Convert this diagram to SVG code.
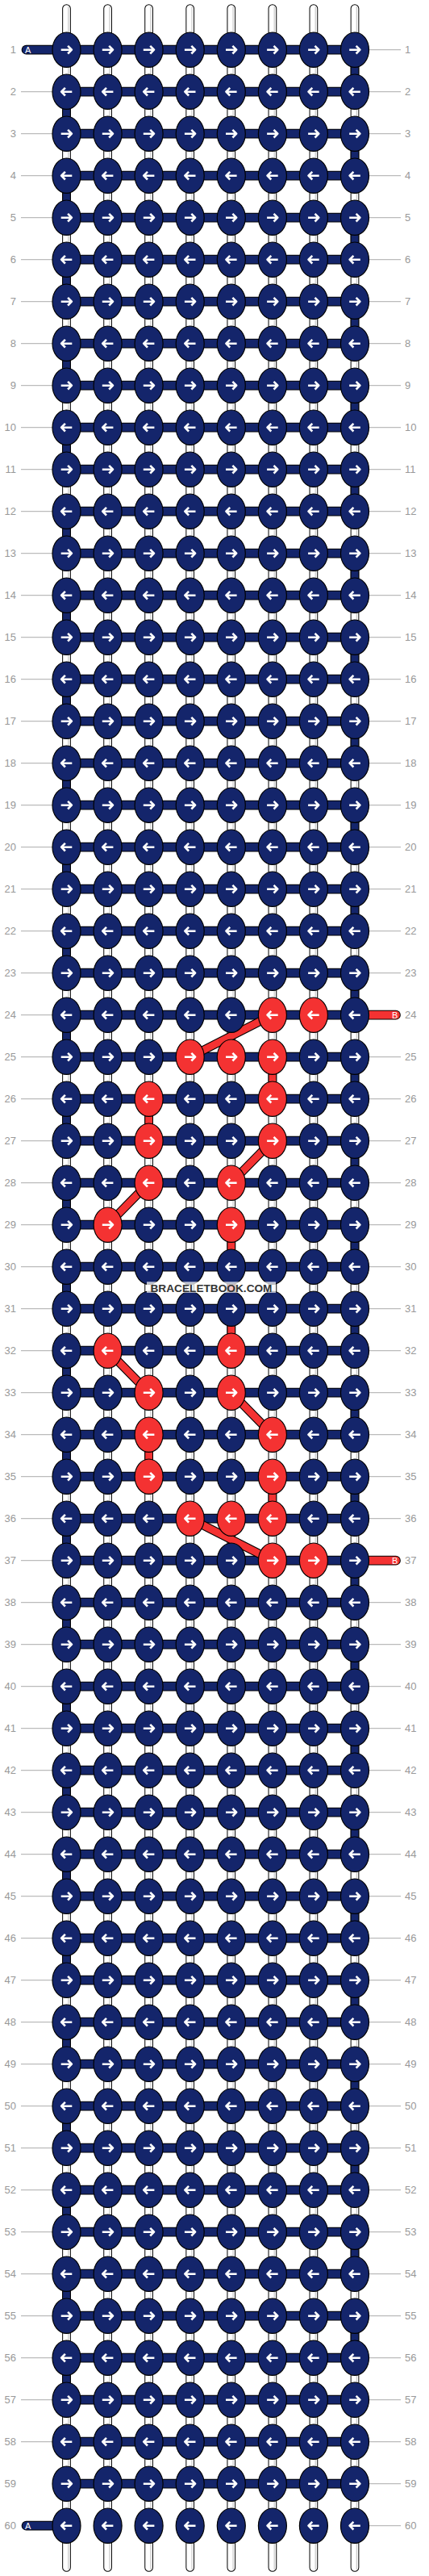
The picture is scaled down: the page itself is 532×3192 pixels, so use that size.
<svg xmlns="http://www.w3.org/2000/svg" xmlns:xlink="http://www.w3.org/1999/xlink" width="532" height="3192" viewBox="0 0 532 3192">
<style>
.kn{fill:#14256b;stroke:#000;stroke-width:1.2}
.kr{fill:#f43232;stroke:#000;stroke-width:1.2}
.ar{fill:none;stroke:#fff;stroke-width:2.6;stroke-linejoin:round}
.L{font-family:"Liberation Sans",Arial,sans-serif;font-size:13px;fill:#999;text-anchor:end}
.R{font-family:"Liberation Sans",Arial,sans-serif;font-size:13px;fill:#999;text-anchor:start}
.tag{font-family:"Liberation Sans",Arial,sans-serif;font-size:11px;fill:#fff}
.wm{font-family:"Liberation Sans",Arial,sans-serif;font-size:13px;font-weight:bold;fill:#333;text-anchor:middle}
</style>
<defs>
<g id="nR"><ellipse class="kn" rx="17.5" ry="21.7"/><path class="ar" d="M-6.8 0H6M1.6-4.8 6.4 0 1.6 4.8"/></g>
<g id="nL"><ellipse class="kn" rx="17.5" ry="21.7"/><path class="ar" d="M6.8 0H-6M-1.6-4.8-6.4 0-1.6 4.8"/></g>
<g id="rR"><ellipse class="kr" rx="17.5" ry="21.7"/><path class="ar" d="M-6.8 0H6M1.6-4.8 6.4 0 1.6 4.8"/></g>
<g id="rL"><ellipse class="kr" rx="17.5" ry="21.7"/><path class="ar" d="M6.8 0H-6M-1.6-4.8-6.4 0-1.6 4.8"/></g>
</defs>
<rect width="532" height="3192" fill="#fff"/>
<g id="labels">
<path fill="none" stroke="#bbb" stroke-width="1.3" d="M26 113.7h39m-39 52h39m-39 52h39m-39 52h39m-39 52h39m-39 52h39m-39 52h39m-39 52h39m-39 52h39m-39 52h39m-39 52h39m-39 52h39m-39 52h39m-39 52h39m-39 52h39m-39 52h39m-39 52h39m-39 52h39m-39 52h39m-39 52h39m-39 52h39m-39 52h39m-39 52h39m-39 52h39m-39 52h39m-39 52h39m-39 52h39m-39 52h39m-39 52h39m-39 52h39m-39 52h39m-39 52h39m-39 52h39m-39 52h39m-39 52h39m-39 52h39m-39 52h39m-39 52h39m-39 52h39m-39 52h39m-39 52h39m-39 52h39m-39 52h39m-39 52h39m-39 52h39m-39 52h39m-39 52h39m-39 52h39m-39 52h39m-39 52h39m-39 52h39m-39 52h39m-39 52h39m-39 52h39m-39 52h39m-39 52h39m-39 52h39M457 61.7h40m-40 52h40m-40 52h40m-40 52h40m-40 52h40m-40 52h40m-40 52h40m-40 52h40m-40 52h40m-40 52h40m-40 52h40m-40 52h40m-40 52h40m-40 52h40m-40 52h40m-40 52h40m-40 52h40m-40 52h40m-40 52h40m-40 52h40m-40 52h40m-40 52h40m-40 52h40m-40 52m0 52h40m-40 52h40m-40 52h40m-40 52h40m-40 52h40m-40 52h40m-40 52h40m-40 52h40m-40 52h40m-40 52h40m-40 52h40m-40 52h40m-40 52m0 52h40m-40 52h40m-40 52h40m-40 52h40m-40 52h40m-40 52h40m-40 52h40m-40 52h40m-40 52h40m-40 52h40m-40 52h40m-40 52h40m-40 52h40m-40 52h40m-40 52h40m-40 52h40m-40 52h40m-40 52h40m-40 52h40m-40 52h40m-40 52h40m-40 52h40m-40 52h40"/>
<text class="L" x="20" y="66.3">1</text><text class="R" x="502" y="66.3">1</text>
<text class="L" x="20" y="118.3">2</text><text class="R" x="502" y="118.3">2</text>
<text class="L" x="20" y="170.3">3</text><text class="R" x="502" y="170.3">3</text>
<text class="L" x="20" y="222.3">4</text><text class="R" x="502" y="222.3">4</text>
<text class="L" x="20" y="274.3">5</text><text class="R" x="502" y="274.3">5</text>
<text class="L" x="20" y="326.3">6</text><text class="R" x="502" y="326.3">6</text>
<text class="L" x="20" y="378.3">7</text><text class="R" x="502" y="378.3">7</text>
<text class="L" x="20" y="430.3">8</text><text class="R" x="502" y="430.3">8</text>
<text class="L" x="20" y="482.3">9</text><text class="R" x="502" y="482.3">9</text>
<text class="L" x="20" y="534.3">10</text><text class="R" x="502" y="534.3">10</text>
<text class="L" x="20" y="586.3">11</text><text class="R" x="502" y="586.3">11</text>
<text class="L" x="20" y="638.3">12</text><text class="R" x="502" y="638.3">12</text>
<text class="L" x="20" y="690.3">13</text><text class="R" x="502" y="690.3">13</text>
<text class="L" x="20" y="742.3">14</text><text class="R" x="502" y="742.3">14</text>
<text class="L" x="20" y="794.3">15</text><text class="R" x="502" y="794.3">15</text>
<text class="L" x="20" y="846.3">16</text><text class="R" x="502" y="846.3">16</text>
<text class="L" x="20" y="898.3">17</text><text class="R" x="502" y="898.3">17</text>
<text class="L" x="20" y="950.3">18</text><text class="R" x="502" y="950.3">18</text>
<text class="L" x="20" y="1002.3">19</text><text class="R" x="502" y="1002.3">19</text>
<text class="L" x="20" y="1054.3">20</text><text class="R" x="502" y="1054.3">20</text>
<text class="L" x="20" y="1106.3">21</text><text class="R" x="502" y="1106.3">21</text>
<text class="L" x="20" y="1158.3">22</text><text class="R" x="502" y="1158.3">22</text>
<text class="L" x="20" y="1210.3">23</text><text class="R" x="502" y="1210.3">23</text>
<text class="L" x="20" y="1262.3">24</text><text class="R" x="502" y="1262.3">24</text>
<text class="L" x="20" y="1314.3">25</text><text class="R" x="502" y="1314.3">25</text>
<text class="L" x="20" y="1366.3">26</text><text class="R" x="502" y="1366.3">26</text>
<text class="L" x="20" y="1418.3">27</text><text class="R" x="502" y="1418.3">27</text>
<text class="L" x="20" y="1470.3">28</text><text class="R" x="502" y="1470.3">28</text>
<text class="L" x="20" y="1522.3">29</text><text class="R" x="502" y="1522.3">29</text>
<text class="L" x="20" y="1574.3">30</text><text class="R" x="502" y="1574.3">30</text>
<text class="L" x="20" y="1626.3">31</text><text class="R" x="502" y="1626.3">31</text>
<text class="L" x="20" y="1678.3">32</text><text class="R" x="502" y="1678.3">32</text>
<text class="L" x="20" y="1730.3">33</text><text class="R" x="502" y="1730.3">33</text>
<text class="L" x="20" y="1782.3">34</text><text class="R" x="502" y="1782.3">34</text>
<text class="L" x="20" y="1834.3">35</text><text class="R" x="502" y="1834.3">35</text>
<text class="L" x="20" y="1886.3">36</text><text class="R" x="502" y="1886.3">36</text>
<text class="L" x="20" y="1938.3">37</text><text class="R" x="502" y="1938.3">37</text>
<text class="L" x="20" y="1990.3">38</text><text class="R" x="502" y="1990.3">38</text>
<text class="L" x="20" y="2042.3">39</text><text class="R" x="502" y="2042.3">39</text>
<text class="L" x="20" y="2094.3">40</text><text class="R" x="502" y="2094.3">40</text>
<text class="L" x="20" y="2146.3">41</text><text class="R" x="502" y="2146.3">41</text>
<text class="L" x="20" y="2198.3">42</text><text class="R" x="502" y="2198.3">42</text>
<text class="L" x="20" y="2250.3">43</text><text class="R" x="502" y="2250.3">43</text>
<text class="L" x="20" y="2302.3">44</text><text class="R" x="502" y="2302.3">44</text>
<text class="L" x="20" y="2354.3">45</text><text class="R" x="502" y="2354.3">45</text>
<text class="L" x="20" y="2406.3">46</text><text class="R" x="502" y="2406.3">46</text>
<text class="L" x="20" y="2458.3">47</text><text class="R" x="502" y="2458.3">47</text>
<text class="L" x="20" y="2510.3">48</text><text class="R" x="502" y="2510.3">48</text>
<text class="L" x="20" y="2562.3">49</text><text class="R" x="502" y="2562.3">49</text>
<text class="L" x="20" y="2614.3">50</text><text class="R" x="502" y="2614.3">50</text>
<text class="L" x="20" y="2666.3">51</text><text class="R" x="502" y="2666.3">51</text>
<text class="L" x="20" y="2718.3">52</text><text class="R" x="502" y="2718.3">52</text>
<text class="L" x="20" y="2770.3">53</text><text class="R" x="502" y="2770.3">53</text>
<text class="L" x="20" y="2822.3">54</text><text class="R" x="502" y="2822.3">54</text>
<text class="L" x="20" y="2874.3">55</text><text class="R" x="502" y="2874.3">55</text>
<text class="L" x="20" y="2926.3">56</text><text class="R" x="502" y="2926.3">56</text>
<text class="L" x="20" y="2978.3">57</text><text class="R" x="502" y="2978.3">57</text>
<text class="L" x="20" y="3030.3">58</text><text class="R" x="502" y="3030.3">58</text>
<text class="L" x="20" y="3082.3">59</text><text class="R" x="502" y="3082.3">59</text>
<text class="L" x="20" y="3134.3">60</text><text class="R" x="502" y="3134.3">60</text>
</g>
<g id="threads" fill="none">
<path stroke="#000" stroke-width="10.7" stroke-linecap="round" d="M82.5 10.5V3181.5M133.6 10.5V3181.5M184.6 10.5V3181.5M235.7 10.5V3181.5M286.8 10.5V3181.5M337.9 10.5V3181.5M388.9 10.5V3181.5M440 10.5V3181.5"/>
<path stroke="#fff" stroke-width="8.7" stroke-linecap="round" d="M82.5 10.5V3181.5M133.6 10.5V3181.5M184.6 10.5V3181.5M235.7 10.5V3181.5M286.8 10.5V3181.5M337.9 10.5V3181.5M388.9 10.5V3181.5M440 10.5V3181.5"/>
<path stroke="#c8c8c8" stroke-width="1.2" d="M84.8 8V3184M135.9 8V3184M186.9 8V3184M238 8V3184M289.1 8V3184M340.2 8V3184M391.2 8V3184M442.3 8V3184"/>
<path id="turnA" stroke="#000" stroke-width="10.7" d="M440 61.7v52m0 52v52m0 52v52m0 52v52m0 52v52m0 52v52m0 52v52m0 52v52m0 52v52m0 52v52m0 52v52m0 52v52m0 52v52m0 52v52m0 52v52m0 52v52m0 52v52m0 52v52m0 52v52m0 52v52m0 52v52m0 52v52m0 52v52m0 52v52m0 52v52m0 52v52m0 52v52m0 52v52M82.5 113.7v52m0 52v52m0 52v52m0 52v52m0 52v52m0 52v52m0 52v52m0 52v52m0 52v52m0 52v52m0 52v52m0 52v52m0 52v52m0 52v52m0 52v52m0 52v52m0 52v52m0 52v52m0 52v52m0 52v52m0 52v52m0 52v52m0 52v52m0 52v52m0 52v52m0 52v52m0 52v52m0 52v52"/>
<path stroke="#14256b" stroke-width="8.7" d="M440 61.7v52m0 52v52m0 52v52m0 52v52m0 52v52m0 52v52m0 52v52m0 52v52m0 52v52m0 52v52m0 52v52m0 52v52m0 52v52m0 52v52m0 52v52m0 52v52m0 52v52m0 52v52m0 52v52m0 52v52m0 52v52m0 52v52m0 52v52m0 52v52m0 52v52m0 52v52m0 52v52m0 52v52M82.5 113.7v52m0 52v52m0 52v52m0 52v52m0 52v52m0 52v52m0 52v52m0 52v52m0 52v52m0 52v52m0 52v52m0 52v52m0 52v52m0 52v52m0 52v52m0 52v52m0 52v52m0 52v52m0 52v52m0 52v52m0 52v52m0 52v52m0 52v52m0 52v52m0 52v52m0 52v52m0 52v52m0 52v52"/>
<path stroke="#000" stroke-width="10.7" d="M337.9 1309.7V1361.7M184.6 1361.7V1413.7M286.8 1517.7V1673.7M184.6 1777.7V1829.7M337.9 1829.7V1881.7"/>
<path stroke="#f43232" stroke-width="8.7" d="M337.9 1309.7V1361.7M184.6 1361.7V1413.7M286.8 1517.7V1673.7M184.6 1777.7V1829.7M337.9 1829.7V1881.7"/>
<path stroke="#000" stroke-width="11.7" d="M82.5 61.7h357.5m-357.5 52h357.5m-357.5 52h357.5m-357.5 52h357.5m-357.5 52h357.5m-357.5 52h357.5m-357.5 52h357.5m-357.5 52h357.5m-357.5 52h357.5m-357.5 52h357.5m-357.5 52h357.5m-357.5 52h357.5m-357.5 52h357.5m-357.5 52h357.5m-357.5 52h357.5m-357.5 52h357.5m-357.5 52h357.5m-357.5 52h357.5m-357.5 52h357.5m-357.5 52h357.5m-357.5 52h357.5m-357.5 52h357.5m-357.5 52h357.5m-357.5 52h357.5m-357.5 52h357.5m-357.5 52h357.5m-357.5 52h357.5m-357.5 52h357.5m-357.5 52h357.5m-357.5 52h357.5m-357.5 52h357.5m-357.5 52h357.5m-357.5 52h357.5m-357.5 52h357.5m-357.5 52h357.5m-357.5 52h357.5m-357.5 52h357.5m-357.5 52h357.5m-357.5 52h357.5m-357.5 52h357.5m-357.5 52h357.5m-357.5 52h357.5m-357.5 52h357.5m-357.5 52h357.5m-357.5 52h357.5m-357.5 52h357.5m-357.5 52h357.5m-357.5 52h357.5m-357.5 52h357.5m-357.5 52h357.5m-357.5 52h357.5m-357.5 52h357.5m-357.5 52h357.5m-357.5 52h357.5m-357.5 52h357.5m-357.5 52h357.5m-357.5 52h357.5m-357.5 52h357.5m-357.5 52h357.5"/>
<path stroke="#14256b" stroke-width="9.7" d="M82.5 61.7h357.5m-357.5 52h357.5m-357.5 52h357.5m-357.5 52h357.5m-357.5 52h357.5m-357.5 52h357.5m-357.5 52h357.5m-357.5 52h357.5m-357.5 52h357.5m-357.5 52h357.5m-357.5 52h357.5m-357.5 52h357.5m-357.5 52h357.5m-357.5 52h357.5m-357.5 52h357.5m-357.5 52h357.5m-357.5 52h357.5m-357.5 52h357.5m-357.5 52h357.5m-357.5 52h357.5m-357.5 52h357.5m-357.5 52h357.5m-357.5 52h357.5m-357.5 52h357.5m-357.5 52h357.5m-357.5 52h357.5m-357.5 52h357.5m-357.5 52h357.5m-357.5 52h357.5m-357.5 52h357.5m-357.5 52h357.5m-357.5 52h357.5m-357.5 52h357.5m-357.5 52h357.5m-357.5 52h357.5m-357.5 52h357.5m-357.5 52h357.5m-357.5 52h357.5m-357.5 52h357.5m-357.5 52h357.5m-357.5 52h357.5m-357.5 52h357.5m-357.5 52h357.5m-357.5 52h357.5m-357.5 52h357.5m-357.5 52h357.5m-357.5 52h357.5m-357.5 52h357.5m-357.5 52h357.5m-357.5 52h357.5m-357.5 52h357.5m-357.5 52h357.5m-357.5 52h357.5m-357.5 52h357.5m-357.5 52h357.5m-357.5 52h357.5m-357.5 52h357.5m-357.5 52h357.5m-357.5 52h357.5"/>
<path stroke="#000" stroke-width="11" d="M337.9 1257.7L235.7 1309.7M337.9 1413.7L286.8 1465.7M184.6 1465.7L133.6 1517.7M133.6 1673.7L184.6 1725.7M286.8 1725.7L337.9 1777.7M235.7 1881.7L337.9 1933.7"/>
<path stroke="#f43232" stroke-width="8.8" d="M337.9 1257.7L235.7 1309.7M337.9 1413.7L286.8 1465.7M184.6 1465.7L133.6 1517.7M133.6 1673.7L184.6 1725.7M286.8 1725.7L337.9 1777.7M235.7 1881.7L337.9 1933.7"/>
<g id="tagA1"><path stroke="#000" stroke-width="11.7" stroke-linecap="round" d="M32.5 61.7H80"/><path stroke="#14256b" stroke-width="9.7" stroke-linecap="round" d="M32.5 61.7H80"/><text class="tag" x="31" y="65.6" fill="#dde3ff">A</text></g>
<g id="tagA60"><path stroke="#000" stroke-width="11.7" stroke-linecap="round" d="M32.5 3129.7H80"/><path stroke="#14256b" stroke-width="9.7" stroke-linecap="round" d="M32.5 3129.7H80"/><text class="tag" x="31" y="3133.6">A</text></g>
<g id="tagB24"><path stroke="#000" stroke-width="11.7" stroke-linecap="round" d="M443 1257.7H491"/><path stroke="#f43232" stroke-width="9.7" stroke-linecap="round" d="M443 1257.7H491"/><text class="tag" x="486" y="1261.6">B</text></g>
<g id="tagB37"><path stroke="#000" stroke-width="11.7" stroke-linecap="round" d="M443 1933.7H491"/><path stroke="#f43232" stroke-width="9.7" stroke-linecap="round" d="M443 1933.7H491"/><text class="tag" x="486" y="1937.6">B</text></g>
</g>
<g id="knots">
<g id="row1" transform="translate(0 61.7)"><use id="k1-1" href="#nR" x="82.5"/><use id="k1-2" href="#nR" x="133.6"/><use id="k1-3" href="#nR" x="184.6"/><use id="k1-4" href="#nR" x="235.7"/><use id="k1-5" href="#nR" x="286.8"/><use id="k1-6" href="#nR" x="337.9"/><use id="k1-7" href="#nR" x="388.9"/><use id="k1-8" href="#nR" x="440"/></g>
<g id="row2" transform="translate(0 113.7)"><use id="k2-1" href="#nL" x="82.5"/><use id="k2-2" href="#nL" x="133.6"/><use id="k2-3" href="#nL" x="184.6"/><use id="k2-4" href="#nL" x="235.7"/><use id="k2-5" href="#nL" x="286.8"/><use id="k2-6" href="#nL" x="337.9"/><use id="k2-7" href="#nL" x="388.9"/><use id="k2-8" href="#nL" x="440"/></g>
<g id="row3" transform="translate(0 165.7)"><use id="k3-1" href="#nR" x="82.5"/><use id="k3-2" href="#nR" x="133.6"/><use id="k3-3" href="#nR" x="184.6"/><use id="k3-4" href="#nR" x="235.7"/><use id="k3-5" href="#nR" x="286.8"/><use id="k3-6" href="#nR" x="337.9"/><use id="k3-7" href="#nR" x="388.9"/><use id="k3-8" href="#nR" x="440"/></g>
<g id="row4" transform="translate(0 217.7)"><use id="k4-1" href="#nL" x="82.5"/><use id="k4-2" href="#nL" x="133.6"/><use id="k4-3" href="#nL" x="184.6"/><use id="k4-4" href="#nL" x="235.7"/><use id="k4-5" href="#nL" x="286.8"/><use id="k4-6" href="#nL" x="337.9"/><use id="k4-7" href="#nL" x="388.9"/><use id="k4-8" href="#nL" x="440"/></g>
<g id="row5" transform="translate(0 269.7)"><use id="k5-1" href="#nR" x="82.5"/><use id="k5-2" href="#nR" x="133.6"/><use id="k5-3" href="#nR" x="184.6"/><use id="k5-4" href="#nR" x="235.7"/><use id="k5-5" href="#nR" x="286.8"/><use id="k5-6" href="#nR" x="337.9"/><use id="k5-7" href="#nR" x="388.9"/><use id="k5-8" href="#nR" x="440"/></g>
<g id="row6" transform="translate(0 321.7)"><use id="k6-1" href="#nL" x="82.5"/><use id="k6-2" href="#nL" x="133.6"/><use id="k6-3" href="#nL" x="184.6"/><use id="k6-4" href="#nL" x="235.7"/><use id="k6-5" href="#nL" x="286.8"/><use id="k6-6" href="#nL" x="337.9"/><use id="k6-7" href="#nL" x="388.9"/><use id="k6-8" href="#nL" x="440"/></g>
<g id="row7" transform="translate(0 373.7)"><use id="k7-1" href="#nR" x="82.5"/><use id="k7-2" href="#nR" x="133.6"/><use id="k7-3" href="#nR" x="184.6"/><use id="k7-4" href="#nR" x="235.7"/><use id="k7-5" href="#nR" x="286.8"/><use id="k7-6" href="#nR" x="337.9"/><use id="k7-7" href="#nR" x="388.9"/><use id="k7-8" href="#nR" x="440"/></g>
<g id="row8" transform="translate(0 425.7)"><use id="k8-1" href="#nL" x="82.5"/><use id="k8-2" href="#nL" x="133.6"/><use id="k8-3" href="#nL" x="184.6"/><use id="k8-4" href="#nL" x="235.7"/><use id="k8-5" href="#nL" x="286.8"/><use id="k8-6" href="#nL" x="337.9"/><use id="k8-7" href="#nL" x="388.9"/><use id="k8-8" href="#nL" x="440"/></g>
<g id="row9" transform="translate(0 477.7)"><use id="k9-1" href="#nR" x="82.5"/><use id="k9-2" href="#nR" x="133.6"/><use id="k9-3" href="#nR" x="184.6"/><use id="k9-4" href="#nR" x="235.7"/><use id="k9-5" href="#nR" x="286.8"/><use id="k9-6" href="#nR" x="337.9"/><use id="k9-7" href="#nR" x="388.9"/><use id="k9-8" href="#nR" x="440"/></g>
<g id="row10" transform="translate(0 529.7)"><use id="k10-1" href="#nL" x="82.5"/><use id="k10-2" href="#nL" x="133.6"/><use id="k10-3" href="#nL" x="184.6"/><use id="k10-4" href="#nL" x="235.7"/><use id="k10-5" href="#nL" x="286.8"/><use id="k10-6" href="#nL" x="337.9"/><use id="k10-7" href="#nL" x="388.9"/><use id="k10-8" href="#nL" x="440"/></g>
<g id="row11" transform="translate(0 581.7)"><use id="k11-1" href="#nR" x="82.5"/><use id="k11-2" href="#nR" x="133.6"/><use id="k11-3" href="#nR" x="184.6"/><use id="k11-4" href="#nR" x="235.7"/><use id="k11-5" href="#nR" x="286.8"/><use id="k11-6" href="#nR" x="337.9"/><use id="k11-7" href="#nR" x="388.9"/><use id="k11-8" href="#nR" x="440"/></g>
<g id="row12" transform="translate(0 633.7)"><use id="k12-1" href="#nL" x="82.5"/><use id="k12-2" href="#nL" x="133.6"/><use id="k12-3" href="#nL" x="184.6"/><use id="k12-4" href="#nL" x="235.7"/><use id="k12-5" href="#nL" x="286.8"/><use id="k12-6" href="#nL" x="337.9"/><use id="k12-7" href="#nL" x="388.9"/><use id="k12-8" href="#nL" x="440"/></g>
<g id="row13" transform="translate(0 685.7)"><use id="k13-1" href="#nR" x="82.5"/><use id="k13-2" href="#nR" x="133.6"/><use id="k13-3" href="#nR" x="184.6"/><use id="k13-4" href="#nR" x="235.7"/><use id="k13-5" href="#nR" x="286.8"/><use id="k13-6" href="#nR" x="337.9"/><use id="k13-7" href="#nR" x="388.9"/><use id="k13-8" href="#nR" x="440"/></g>
<g id="row14" transform="translate(0 737.7)"><use id="k14-1" href="#nL" x="82.5"/><use id="k14-2" href="#nL" x="133.6"/><use id="k14-3" href="#nL" x="184.6"/><use id="k14-4" href="#nL" x="235.7"/><use id="k14-5" href="#nL" x="286.8"/><use id="k14-6" href="#nL" x="337.9"/><use id="k14-7" href="#nL" x="388.9"/><use id="k14-8" href="#nL" x="440"/></g>
<g id="row15" transform="translate(0 789.7)"><use id="k15-1" href="#nR" x="82.5"/><use id="k15-2" href="#nR" x="133.6"/><use id="k15-3" href="#nR" x="184.6"/><use id="k15-4" href="#nR" x="235.7"/><use id="k15-5" href="#nR" x="286.8"/><use id="k15-6" href="#nR" x="337.9"/><use id="k15-7" href="#nR" x="388.9"/><use id="k15-8" href="#nR" x="440"/></g>
<g id="row16" transform="translate(0 841.7)"><use id="k16-1" href="#nL" x="82.5"/><use id="k16-2" href="#nL" x="133.6"/><use id="k16-3" href="#nL" x="184.6"/><use id="k16-4" href="#nL" x="235.7"/><use id="k16-5" href="#nL" x="286.8"/><use id="k16-6" href="#nL" x="337.9"/><use id="k16-7" href="#nL" x="388.9"/><use id="k16-8" href="#nL" x="440"/></g>
<g id="row17" transform="translate(0 893.7)"><use id="k17-1" href="#nR" x="82.5"/><use id="k17-2" href="#nR" x="133.6"/><use id="k17-3" href="#nR" x="184.6"/><use id="k17-4" href="#nR" x="235.7"/><use id="k17-5" href="#nR" x="286.8"/><use id="k17-6" href="#nR" x="337.9"/><use id="k17-7" href="#nR" x="388.9"/><use id="k17-8" href="#nR" x="440"/></g>
<g id="row18" transform="translate(0 945.7)"><use id="k18-1" href="#nL" x="82.5"/><use id="k18-2" href="#nL" x="133.6"/><use id="k18-3" href="#nL" x="184.6"/><use id="k18-4" href="#nL" x="235.7"/><use id="k18-5" href="#nL" x="286.8"/><use id="k18-6" href="#nL" x="337.9"/><use id="k18-7" href="#nL" x="388.9"/><use id="k18-8" href="#nL" x="440"/></g>
<g id="row19" transform="translate(0 997.7)"><use id="k19-1" href="#nR" x="82.5"/><use id="k19-2" href="#nR" x="133.6"/><use id="k19-3" href="#nR" x="184.6"/><use id="k19-4" href="#nR" x="235.7"/><use id="k19-5" href="#nR" x="286.8"/><use id="k19-6" href="#nR" x="337.9"/><use id="k19-7" href="#nR" x="388.9"/><use id="k19-8" href="#nR" x="440"/></g>
<g id="row20" transform="translate(0 1049.7)"><use id="k20-1" href="#nL" x="82.5"/><use id="k20-2" href="#nL" x="133.6"/><use id="k20-3" href="#nL" x="184.6"/><use id="k20-4" href="#nL" x="235.7"/><use id="k20-5" href="#nL" x="286.8"/><use id="k20-6" href="#nL" x="337.9"/><use id="k20-7" href="#nL" x="388.9"/><use id="k20-8" href="#nL" x="440"/></g>
<g id="row21" transform="translate(0 1101.7)"><use id="k21-1" href="#nR" x="82.5"/><use id="k21-2" href="#nR" x="133.6"/><use id="k21-3" href="#nR" x="184.6"/><use id="k21-4" href="#nR" x="235.7"/><use id="k21-5" href="#nR" x="286.8"/><use id="k21-6" href="#nR" x="337.9"/><use id="k21-7" href="#nR" x="388.9"/><use id="k21-8" href="#nR" x="440"/></g>
<g id="row22" transform="translate(0 1153.7)"><use id="k22-1" href="#nL" x="82.5"/><use id="k22-2" href="#nL" x="133.6"/><use id="k22-3" href="#nL" x="184.6"/><use id="k22-4" href="#nL" x="235.7"/><use id="k22-5" href="#nL" x="286.8"/><use id="k22-6" href="#nL" x="337.9"/><use id="k22-7" href="#nL" x="388.9"/><use id="k22-8" href="#nL" x="440"/></g>
<g id="row23" transform="translate(0 1205.7)"><use id="k23-1" href="#nR" x="82.5"/><use id="k23-2" href="#nR" x="133.6"/><use id="k23-3" href="#nR" x="184.6"/><use id="k23-4" href="#nR" x="235.7"/><use id="k23-5" href="#nR" x="286.8"/><use id="k23-6" href="#nR" x="337.9"/><use id="k23-7" href="#nR" x="388.9"/><use id="k23-8" href="#nR" x="440"/></g>
<g id="row24" transform="translate(0 1257.7)"><use id="k24-1" href="#nL" x="82.5"/><use id="k24-2" href="#nL" x="133.6"/><use id="k24-3" href="#nL" x="184.6"/><use id="k24-4" href="#nL" x="235.7"/><use id="k24-5" href="#nL" x="286.8"/><use id="k24-6" href="#rL" x="337.9"/><use id="k24-7" href="#rL" x="388.9"/><use id="k24-8" href="#nL" x="440"/></g>
<g id="row25" transform="translate(0 1309.7)"><use id="k25-1" href="#nR" x="82.5"/><use id="k25-2" href="#nR" x="133.6"/><use id="k25-3" href="#nR" x="184.6"/><use id="k25-4" href="#rR" x="235.7"/><use id="k25-5" href="#rR" x="286.8"/><use id="k25-6" href="#rR" x="337.9"/><use id="k25-7" href="#nR" x="388.9"/><use id="k25-8" href="#nR" x="440"/></g>
<g id="row26" transform="translate(0 1361.7)"><use id="k26-1" href="#nL" x="82.5"/><use id="k26-2" href="#nL" x="133.6"/><use id="k26-3" href="#rL" x="184.6"/><use id="k26-4" href="#nL" x="235.7"/><use id="k26-5" href="#nL" x="286.8"/><use id="k26-6" href="#rL" x="337.9"/><use id="k26-7" href="#nL" x="388.9"/><use id="k26-8" href="#nL" x="440"/></g>
<g id="row27" transform="translate(0 1413.7)"><use id="k27-1" href="#nR" x="82.5"/><use id="k27-2" href="#nR" x="133.6"/><use id="k27-3" href="#rR" x="184.6"/><use id="k27-4" href="#nR" x="235.7"/><use id="k27-5" href="#nR" x="286.8"/><use id="k27-6" href="#rR" x="337.9"/><use id="k27-7" href="#nR" x="388.9"/><use id="k27-8" href="#nR" x="440"/></g>
<g id="row28" transform="translate(0 1465.7)"><use id="k28-1" href="#nL" x="82.5"/><use id="k28-2" href="#nL" x="133.6"/><use id="k28-3" href="#rL" x="184.6"/><use id="k28-4" href="#nL" x="235.7"/><use id="k28-5" href="#rL" x="286.8"/><use id="k28-6" href="#nL" x="337.9"/><use id="k28-7" href="#nL" x="388.9"/><use id="k28-8" href="#nL" x="440"/></g>
<g id="row29" transform="translate(0 1517.7)"><use id="k29-1" href="#nR" x="82.5"/><use id="k29-2" href="#rR" x="133.6"/><use id="k29-3" href="#nR" x="184.6"/><use id="k29-4" href="#nR" x="235.7"/><use id="k29-5" href="#rR" x="286.8"/><use id="k29-6" href="#nR" x="337.9"/><use id="k29-7" href="#nR" x="388.9"/><use id="k29-8" href="#nR" x="440"/></g>
<g id="row30" transform="translate(0 1569.7)"><use id="k30-1" href="#nL" x="82.5"/><use id="k30-2" href="#nL" x="133.6"/><use id="k30-3" href="#nL" x="184.6"/><use id="k30-4" href="#nL" x="235.7"/><use id="k30-5" href="#nL" x="286.8"/><use id="k30-6" href="#nL" x="337.9"/><use id="k30-7" href="#nL" x="388.9"/><use id="k30-8" href="#nL" x="440"/></g>
<g id="row31" transform="translate(0 1621.7)"><use id="k31-1" href="#nR" x="82.5"/><use id="k31-2" href="#nR" x="133.6"/><use id="k31-3" href="#nR" x="184.6"/><use id="k31-4" href="#nR" x="235.7"/><use id="k31-5" href="#nR" x="286.8"/><use id="k31-6" href="#nR" x="337.9"/><use id="k31-7" href="#nR" x="388.9"/><use id="k31-8" href="#nR" x="440"/></g>
<g id="row32" transform="translate(0 1673.7)"><use id="k32-1" href="#nL" x="82.5"/><use id="k32-2" href="#rL" x="133.6"/><use id="k32-3" href="#nL" x="184.6"/><use id="k32-4" href="#nL" x="235.7"/><use id="k32-5" href="#rL" x="286.8"/><use id="k32-6" href="#nL" x="337.9"/><use id="k32-7" href="#nL" x="388.9"/><use id="k32-8" href="#nL" x="440"/></g>
<g id="row33" transform="translate(0 1725.7)"><use id="k33-1" href="#nR" x="82.5"/><use id="k33-2" href="#nR" x="133.6"/><use id="k33-3" href="#rR" x="184.6"/><use id="k33-4" href="#nR" x="235.7"/><use id="k33-5" href="#rR" x="286.8"/><use id="k33-6" href="#nR" x="337.9"/><use id="k33-7" href="#nR" x="388.9"/><use id="k33-8" href="#nR" x="440"/></g>
<g id="row34" transform="translate(0 1777.7)"><use id="k34-1" href="#nL" x="82.5"/><use id="k34-2" href="#nL" x="133.6"/><use id="k34-3" href="#rL" x="184.6"/><use id="k34-4" href="#nL" x="235.7"/><use id="k34-5" href="#nL" x="286.8"/><use id="k34-6" href="#rL" x="337.9"/><use id="k34-7" href="#nL" x="388.9"/><use id="k34-8" href="#nL" x="440"/></g>
<g id="row35" transform="translate(0 1829.7)"><use id="k35-1" href="#nR" x="82.5"/><use id="k35-2" href="#nR" x="133.6"/><use id="k35-3" href="#rR" x="184.6"/><use id="k35-4" href="#nR" x="235.7"/><use id="k35-5" href="#nR" x="286.8"/><use id="k35-6" href="#rR" x="337.9"/><use id="k35-7" href="#nR" x="388.9"/><use id="k35-8" href="#nR" x="440"/></g>
<g id="row36" transform="translate(0 1881.7)"><use id="k36-1" href="#nL" x="82.5"/><use id="k36-2" href="#nL" x="133.6"/><use id="k36-3" href="#nL" x="184.6"/><use id="k36-4" href="#rL" x="235.7"/><use id="k36-5" href="#rL" x="286.8"/><use id="k36-6" href="#rL" x="337.9"/><use id="k36-7" href="#nL" x="388.9"/><use id="k36-8" href="#nL" x="440"/></g>
<g id="row37" transform="translate(0 1933.7)"><use id="k37-1" href="#nR" x="82.5"/><use id="k37-2" href="#nR" x="133.6"/><use id="k37-3" href="#nR" x="184.6"/><use id="k37-4" href="#nR" x="235.7"/><use id="k37-5" href="#nR" x="286.8"/><use id="k37-6" href="#rR" x="337.9"/><use id="k37-7" href="#rR" x="388.9"/><use id="k37-8" href="#nR" x="440"/></g>
<g id="row38" transform="translate(0 1985.7)"><use id="k38-1" href="#nL" x="82.5"/><use id="k38-2" href="#nL" x="133.6"/><use id="k38-3" href="#nL" x="184.6"/><use id="k38-4" href="#nL" x="235.7"/><use id="k38-5" href="#nL" x="286.8"/><use id="k38-6" href="#nL" x="337.9"/><use id="k38-7" href="#nL" x="388.9"/><use id="k38-8" href="#nL" x="440"/></g>
<g id="row39" transform="translate(0 2037.7)"><use id="k39-1" href="#nR" x="82.5"/><use id="k39-2" href="#nR" x="133.6"/><use id="k39-3" href="#nR" x="184.6"/><use id="k39-4" href="#nR" x="235.7"/><use id="k39-5" href="#nR" x="286.8"/><use id="k39-6" href="#nR" x="337.9"/><use id="k39-7" href="#nR" x="388.9"/><use id="k39-8" href="#nR" x="440"/></g>
<g id="row40" transform="translate(0 2089.7)"><use id="k40-1" href="#nL" x="82.5"/><use id="k40-2" href="#nL" x="133.6"/><use id="k40-3" href="#nL" x="184.6"/><use id="k40-4" href="#nL" x="235.7"/><use id="k40-5" href="#nL" x="286.8"/><use id="k40-6" href="#nL" x="337.9"/><use id="k40-7" href="#nL" x="388.9"/><use id="k40-8" href="#nL" x="440"/></g>
<g id="row41" transform="translate(0 2141.7)"><use id="k41-1" href="#nR" x="82.5"/><use id="k41-2" href="#nR" x="133.6"/><use id="k41-3" href="#nR" x="184.6"/><use id="k41-4" href="#nR" x="235.7"/><use id="k41-5" href="#nR" x="286.8"/><use id="k41-6" href="#nR" x="337.9"/><use id="k41-7" href="#nR" x="388.9"/><use id="k41-8" href="#nR" x="440"/></g>
<g id="row42" transform="translate(0 2193.7)"><use id="k42-1" href="#nL" x="82.5"/><use id="k42-2" href="#nL" x="133.6"/><use id="k42-3" href="#nL" x="184.6"/><use id="k42-4" href="#nL" x="235.7"/><use id="k42-5" href="#nL" x="286.8"/><use id="k42-6" href="#nL" x="337.9"/><use id="k42-7" href="#nL" x="388.9"/><use id="k42-8" href="#nL" x="440"/></g>
<g id="row43" transform="translate(0 2245.7)"><use id="k43-1" href="#nR" x="82.5"/><use id="k43-2" href="#nR" x="133.6"/><use id="k43-3" href="#nR" x="184.6"/><use id="k43-4" href="#nR" x="235.7"/><use id="k43-5" href="#nR" x="286.8"/><use id="k43-6" href="#nR" x="337.9"/><use id="k43-7" href="#nR" x="388.9"/><use id="k43-8" href="#nR" x="440"/></g>
<g id="row44" transform="translate(0 2297.7)"><use id="k44-1" href="#nL" x="82.5"/><use id="k44-2" href="#nL" x="133.6"/><use id="k44-3" href="#nL" x="184.6"/><use id="k44-4" href="#nL" x="235.7"/><use id="k44-5" href="#nL" x="286.8"/><use id="k44-6" href="#nL" x="337.9"/><use id="k44-7" href="#nL" x="388.9"/><use id="k44-8" href="#nL" x="440"/></g>
<g id="row45" transform="translate(0 2349.7)"><use id="k45-1" href="#nR" x="82.5"/><use id="k45-2" href="#nR" x="133.6"/><use id="k45-3" href="#nR" x="184.6"/><use id="k45-4" href="#nR" x="235.7"/><use id="k45-5" href="#nR" x="286.8"/><use id="k45-6" href="#nR" x="337.9"/><use id="k45-7" href="#nR" x="388.9"/><use id="k45-8" href="#nR" x="440"/></g>
<g id="row46" transform="translate(0 2401.7)"><use id="k46-1" href="#nL" x="82.5"/><use id="k46-2" href="#nL" x="133.6"/><use id="k46-3" href="#nL" x="184.6"/><use id="k46-4" href="#nL" x="235.7"/><use id="k46-5" href="#nL" x="286.8"/><use id="k46-6" href="#nL" x="337.9"/><use id="k46-7" href="#nL" x="388.9"/><use id="k46-8" href="#nL" x="440"/></g>
<g id="row47" transform="translate(0 2453.7)"><use id="k47-1" href="#nR" x="82.5"/><use id="k47-2" href="#nR" x="133.6"/><use id="k47-3" href="#nR" x="184.6"/><use id="k47-4" href="#nR" x="235.7"/><use id="k47-5" href="#nR" x="286.8"/><use id="k47-6" href="#nR" x="337.9"/><use id="k47-7" href="#nR" x="388.9"/><use id="k47-8" href="#nR" x="440"/></g>
<g id="row48" transform="translate(0 2505.7)"><use id="k48-1" href="#nL" x="82.5"/><use id="k48-2" href="#nL" x="133.6"/><use id="k48-3" href="#nL" x="184.6"/><use id="k48-4" href="#nL" x="235.7"/><use id="k48-5" href="#nL" x="286.8"/><use id="k48-6" href="#nL" x="337.9"/><use id="k48-7" href="#nL" x="388.9"/><use id="k48-8" href="#nL" x="440"/></g>
<g id="row49" transform="translate(0 2557.7)"><use id="k49-1" href="#nR" x="82.5"/><use id="k49-2" href="#nR" x="133.6"/><use id="k49-3" href="#nR" x="184.6"/><use id="k49-4" href="#nR" x="235.7"/><use id="k49-5" href="#nR" x="286.8"/><use id="k49-6" href="#nR" x="337.9"/><use id="k49-7" href="#nR" x="388.9"/><use id="k49-8" href="#nR" x="440"/></g>
<g id="row50" transform="translate(0 2609.7)"><use id="k50-1" href="#nL" x="82.5"/><use id="k50-2" href="#nL" x="133.6"/><use id="k50-3" href="#nL" x="184.6"/><use id="k50-4" href="#nL" x="235.7"/><use id="k50-5" href="#nL" x="286.8"/><use id="k50-6" href="#nL" x="337.9"/><use id="k50-7" href="#nL" x="388.9"/><use id="k50-8" href="#nL" x="440"/></g>
<g id="row51" transform="translate(0 2661.7)"><use id="k51-1" href="#nR" x="82.5"/><use id="k51-2" href="#nR" x="133.6"/><use id="k51-3" href="#nR" x="184.6"/><use id="k51-4" href="#nR" x="235.7"/><use id="k51-5" href="#nR" x="286.8"/><use id="k51-6" href="#nR" x="337.9"/><use id="k51-7" href="#nR" x="388.9"/><use id="k51-8" href="#nR" x="440"/></g>
<g id="row52" transform="translate(0 2713.7)"><use id="k52-1" href="#nL" x="82.5"/><use id="k52-2" href="#nL" x="133.6"/><use id="k52-3" href="#nL" x="184.6"/><use id="k52-4" href="#nL" x="235.7"/><use id="k52-5" href="#nL" x="286.8"/><use id="k52-6" href="#nL" x="337.9"/><use id="k52-7" href="#nL" x="388.9"/><use id="k52-8" href="#nL" x="440"/></g>
<g id="row53" transform="translate(0 2765.7)"><use id="k53-1" href="#nR" x="82.5"/><use id="k53-2" href="#nR" x="133.6"/><use id="k53-3" href="#nR" x="184.6"/><use id="k53-4" href="#nR" x="235.7"/><use id="k53-5" href="#nR" x="286.8"/><use id="k53-6" href="#nR" x="337.9"/><use id="k53-7" href="#nR" x="388.9"/><use id="k53-8" href="#nR" x="440"/></g>
<g id="row54" transform="translate(0 2817.7)"><use id="k54-1" href="#nL" x="82.5"/><use id="k54-2" href="#nL" x="133.6"/><use id="k54-3" href="#nL" x="184.6"/><use id="k54-4" href="#nL" x="235.7"/><use id="k54-5" href="#nL" x="286.8"/><use id="k54-6" href="#nL" x="337.9"/><use id="k54-7" href="#nL" x="388.9"/><use id="k54-8" href="#nL" x="440"/></g>
<g id="row55" transform="translate(0 2869.7)"><use id="k55-1" href="#nR" x="82.5"/><use id="k55-2" href="#nR" x="133.6"/><use id="k55-3" href="#nR" x="184.6"/><use id="k55-4" href="#nR" x="235.7"/><use id="k55-5" href="#nR" x="286.8"/><use id="k55-6" href="#nR" x="337.9"/><use id="k55-7" href="#nR" x="388.9"/><use id="k55-8" href="#nR" x="440"/></g>
<g id="row56" transform="translate(0 2921.7)"><use id="k56-1" href="#nL" x="82.5"/><use id="k56-2" href="#nL" x="133.6"/><use id="k56-3" href="#nL" x="184.6"/><use id="k56-4" href="#nL" x="235.7"/><use id="k56-5" href="#nL" x="286.8"/><use id="k56-6" href="#nL" x="337.9"/><use id="k56-7" href="#nL" x="388.9"/><use id="k56-8" href="#nL" x="440"/></g>
<g id="row57" transform="translate(0 2973.7)"><use id="k57-1" href="#nR" x="82.5"/><use id="k57-2" href="#nR" x="133.6"/><use id="k57-3" href="#nR" x="184.6"/><use id="k57-4" href="#nR" x="235.7"/><use id="k57-5" href="#nR" x="286.8"/><use id="k57-6" href="#nR" x="337.9"/><use id="k57-7" href="#nR" x="388.9"/><use id="k57-8" href="#nR" x="440"/></g>
<g id="row58" transform="translate(0 3025.7)"><use id="k58-1" href="#nL" x="82.5"/><use id="k58-2" href="#nL" x="133.6"/><use id="k58-3" href="#nL" x="184.6"/><use id="k58-4" href="#nL" x="235.7"/><use id="k58-5" href="#nL" x="286.8"/><use id="k58-6" href="#nL" x="337.9"/><use id="k58-7" href="#nL" x="388.9"/><use id="k58-8" href="#nL" x="440"/></g>
<g id="row59" transform="translate(0 3077.7)"><use id="k59-1" href="#nR" x="82.5"/><use id="k59-2" href="#nR" x="133.6"/><use id="k59-3" href="#nR" x="184.6"/><use id="k59-4" href="#nR" x="235.7"/><use id="k59-5" href="#nR" x="286.8"/><use id="k59-6" href="#nR" x="337.9"/><use id="k59-7" href="#nR" x="388.9"/><use id="k59-8" href="#nR" x="440"/></g>
<g id="row60" transform="translate(0 3129.7)"><use id="k60-1" href="#nL" x="82.5"/><use id="k60-2" href="#nL" x="133.6"/><use id="k60-3" href="#nL" x="184.6"/><use id="k60-4" href="#nL" x="235.7"/><use id="k60-5" href="#nL" x="286.8"/><use id="k60-6" href="#nL" x="337.9"/><use id="k60-7" href="#nL" x="388.9"/><use id="k60-8" href="#nL" x="440"/></g>
</g>
<g id="watermark"><rect x="182" y="1588.3" width="160" height="13.6" fill="#fff" fill-opacity="0.72"/><text class="wm" x="262" y="1600.6" textLength="151" lengthAdjust="spacingAndGlyphs">BRACELETBOOK.COM</text></g>
</svg>
